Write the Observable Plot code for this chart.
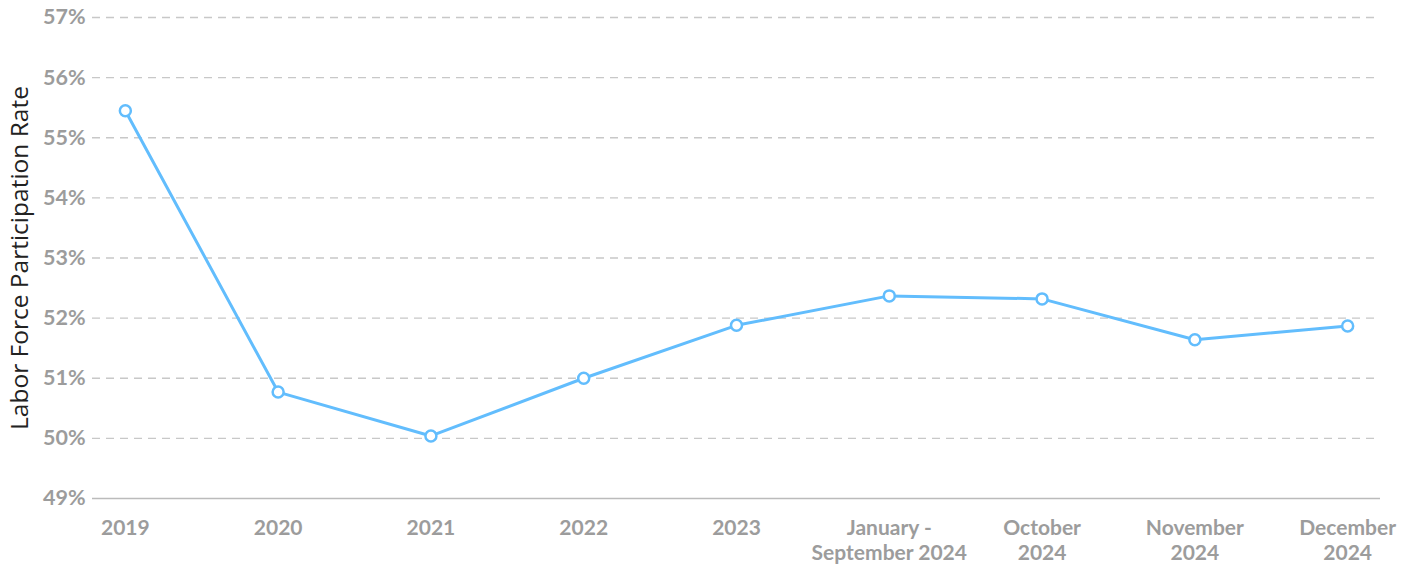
<!DOCTYPE html>
<html>
<head>
<meta charset="utf-8">
<script src="https://cdn.jsdelivr.net/npm/d3@7"></script>
<script src="https://cdn.jsdelivr.net/npm/@observablehq/plot@0.6"></script>
<style>
  html, body { margin: 0; padding: 0; background: #fff; }
  #chart svg { display: block; }
</style>
</head>
<body>
<div id="chart"></div>
<script>
const periods = ["2019", "2020", "2021", "2022", "2023", "January -\nSeptember 2024", "October\n2024", "November\n2024", "December\n2024"];
const rates = [55.45, 50.77, 50.04, 51.0, 51.88, 52.37, 52.32, 51.64, 51.87];
const yTicks = [49, 50, 51, 52, 53, 54, 55, 56, 57];
const yLabel = "Labor Force Participation Rate";

const data = periods.map((p, i) => ({period: p, rate: rates[i]}));
const gridTicks = yTicks.filter(t => t !== yTicks[0]);

const chart = Plot.plot({
  width: 1414,
  height: 572,
  marginTop: 17,
  marginBottom: 74,
  marginLeft: 92,
  marginRight: 34,
  style: {fontFamily: "Lato, sans-serif", background: "#fff"},
  x: {type: "point", domain: periods, padding: 0.215, round: false},
  y: {domain: [49, 57]},
  marks: [
    Plot.gridY(gridTicks, {stroke: "#c8c8c8", strokeOpacity: 1, strokeDasharray: "8,6", strokeWidth: 1.3}),
    Plot.ruleY([49], {stroke: "#bbbbbb", strokeWidth: 1.3}),
    Plot.axisY(yTicks, {tickSize: 0, tickPadding: 7, tickFormat: d => d + "%", fontSize: 21.5, fontWeight: "bold", fill: "#9c9c9c", label: null}),
    Plot.axisX({tickSize: 0, tickPadding: 19, fontSize: 21, fontWeight: "bold", fill: "#9c9c9c", lineHeight: 1.18, label: null}),
    Plot.text([yLabel], {frameAnchor: "left", textAnchor: "middle", dx: -72, rotate: -90, fontSize: 24.5, fontFamily: "'Open Sans', sans-serif", fill: "#222", text: d => d}),
    Plot.line(data, {x: "period", y: "rate", stroke: "#62bdfd", strokeWidth: 3}),
    Plot.dot(data, {x: "period", y: "rate", r: 5.5, fill: "#fff", stroke: "#62bdfd", strokeWidth: 2.5})
  ]
});
document.getElementById("chart").appendChild(chart);
</script>
</body>
</html>
